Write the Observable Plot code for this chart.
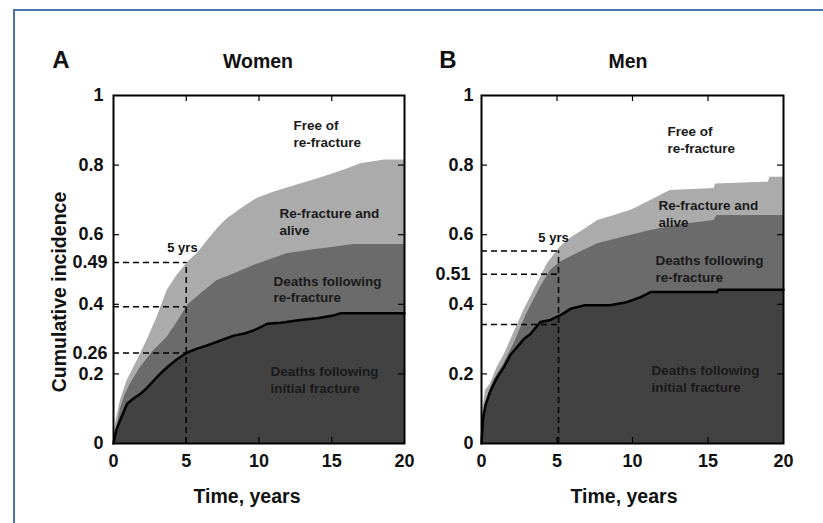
<!DOCTYPE html>
<html>
<head>
<meta charset="utf-8">
<script src="https://cdn.jsdelivr.net/npm/d3@7"></script>
<script src="https://cdn.jsdelivr.net/npm/@observablehq/plot@0.6"></script>
<style>
  html, body { margin: 0; padding: 0; overflow: hidden; background: #fff; }
  body { font-family: "Liberation Sans", Arial, sans-serif; }
  #wrap { position: relative; width: 823px; height: 523px; overflow: hidden; background: #fff; }
  #border { position: absolute; left: 13px; top: 9px; width: 900px; height: 600px;
            border-left: 2px solid #4e73ae; border-top: 2px solid #4e73ae; }
  .t { position: absolute; font-weight: bold; color: #111; white-space: nowrap;
       line-height: 1; transform: translate(-50%, -50%); }
  .panel { position: absolute; top: 80px; }
  .panel svg { overflow: visible; }
</style>
</head>
<body>
<div id="wrap">
  <div id="border"></div>
  <div id="pA" class="panel" style="left:0px"></div>
  <div id="pB" class="panel" style="left:410px"></div>
  <div class="t" style="left:61px;top:60px;font-size:24px">A</div>
  <div class="t" style="left:258px;top:62px;font-size:19.5px">Women</div>
  <div class="t" style="left:448px;top:60px;font-size:24px">B</div>
  <div class="t" style="left:628px;top:62px;font-size:19.5px">Men</div>
  <div class="t" style="left:60px;top:292px;font-size:19.5px;transform:translate(-50%,-50%) rotate(-90deg)">Cumulative incidence</div>
  <div class="t" style="left:247px;top:497px;font-size:19.5px">Time, years</div>
  <div class="t" style="left:624px;top:497px;font-size:19.5px">Time, years</div>
</div>
<script>
// ---- axis ticks ----
const xTicks = [0, 5, 10, 15, 20];
const yTicks = [0, 0.2, 0.4, 0.6, 0.8, 1];
const innerXTicks = [5, 10, 15];
const innerYTicks = [0.2, 0.4, 0.6, 0.8];

// ---- Women ----
const womenTotalT = [0, 0.15, 0.48, 0.94, 1.63, 2.3, 3.0, 3.69, 4.4, 5.1, 5.8, 6.5, 7.2, 7.8, 8.8, 9.9, 11.0, 12.0, 12.85, 14.0, 15.1, 16.0, 17.0, 18.0, 18.6, 20];
const womenTotalV = [0, 0.06, 0.124, 0.181, 0.238, 0.296, 0.363, 0.44, 0.485, 0.521, 0.548, 0.585, 0.62, 0.645, 0.675, 0.705, 0.722, 0.735, 0.746, 0.76, 0.775, 0.788, 0.804, 0.81, 0.815, 0.815];
const womenMidT = [0, 0.25, 0.48, 0.8, 1.17, 1.86, 2.77, 3.69, 4.4, 5.1, 6.0, 7.1, 8.3, 9.6, 10.6, 11.9, 13.5, 15.0, 16.5, 20];
const womenMidV = [0, 0.05, 0.1, 0.14, 0.172, 0.219, 0.267, 0.305, 0.35, 0.397, 0.43, 0.468, 0.488, 0.511, 0.526, 0.545, 0.555, 0.563, 0.572, 0.572];
const womenInitT = [0, 0.2, 0.45, 0.94, 1.4, 1.86, 2.3, 2.77, 3.2, 3.69, 4.3, 5.0, 5.7, 6.44, 7.5, 8.27, 9.0, 9.64, 10.56, 11.5, 12.85, 14.0, 15.1, 15.6, 20];
const womenInitV = [0, 0.04, 0.066, 0.114, 0.13, 0.143, 0.16, 0.181, 0.2, 0.219, 0.24, 0.26, 0.272, 0.282, 0.298, 0.31, 0.316, 0.325, 0.344, 0.347, 0.355, 0.36, 0.368, 0.374, 0.374];
const womenRefTime = 5;
const womenRefLevels = [0.26, 0.393, 0.52];
const womenRefLabels = ["0.26", "0.49"];
const womenRefLabelLevels = [0.26, 0.52];

// ---- Men ----
const menTotalT = [0, 0.1, 0.26, 0.6, 1.04, 1.5, 1.92, 2.8, 3.7, 4.35, 5.2, 5.9, 6.8, 7.7, 8.8, 9.9, 11.2, 12.5, 15.4, 15.5, 19.0, 19.1, 20];
const menTotalV = [0, 0.1, 0.152, 0.172, 0.219, 0.255, 0.296, 0.382, 0.459, 0.516, 0.564, 0.59, 0.615, 0.641, 0.655, 0.67, 0.698, 0.727, 0.733, 0.746, 0.751, 0.765, 0.765];
const menMidT = [0, 0.1, 0.38, 0.8, 1.48, 2.14, 3.0, 3.9, 4.57, 5.2, 6.3, 7.7, 9.4, 11.2, 13.0, 15.4, 15.6, 20];
const menMidV = [0, 0.08, 0.133, 0.181, 0.229, 0.286, 0.373, 0.449, 0.497, 0.521, 0.545, 0.574, 0.593, 0.612, 0.628, 0.641, 0.655, 0.655];
const menInitT = [0, 0.1, 0.26, 0.6, 1.04, 1.48, 1.92, 2.36, 2.8, 3.25, 3.9, 4.57, 5.2, 5.9, 6.8, 8.5, 9.6, 10.5, 11.2, 15.6, 15.7, 20];
const menInitV = [0, 0.07, 0.11, 0.152, 0.19, 0.219, 0.255, 0.277, 0.3, 0.315, 0.349, 0.355, 0.368, 0.387, 0.397, 0.397, 0.406, 0.42, 0.435, 0.435, 0.442, 0.442];
const menRefTime = 5.1;
const menRefLevels = [0.342, 0.486, 0.553];
const menRefLabels = ["0.51"];
const menRefLabelLevels = [0.486];

// ---- region labels ----
const regionLabels = ["Free of\nre-fracture", "Re-fracture and\nalive", "Deaths following\nre-fracture", "Deaths following\ninitial fracture"];
const yrsLabel = "5 yrs";

const zipTV = (T, V) => T.map((t, i) => ({t, v: V[i]}));

function panel(c) {
  const plotH = 348;
  const plotW = c.width - c.ml - c.mr;
  const total = zipTV(c.totalT, c.totalV);
  const mid = zipTV(c.midT, c.midV);
  const init = zipTV(c.initT, c.initV);
  const refLab = c.refLabels.map((s, i) => ({s, y: c.refLabelLevels[i]}));
  const txt = {fontSize: 13.5, fontWeight: "bold", fill: "#1a1a1a", textAnchor: "start", lineHeight: 1.25};
  return Plot.plot({
    width: c.width, height: 443,
    marginLeft: c.ml, marginRight: c.mr, marginTop: 15, marginBottom: 80,
    x: {domain: [0, 20]},
    y: {domain: [0, 1]},
    style: {fontFamily: "'Liberation Sans', Arial, sans-serif", background: "transparent", overflow: "visible", color: "#111"},
    marks: [
      Plot.areaY(total, {x: "t", y: "v", fill: "#ababab"}),
      Plot.areaY(mid, {x: "t", y: "v", fill: "#6b6b6b"}),
      Plot.areaY(init, {x: "t", y: "v", fill: "#424242"}),
      Plot.line(init, {x: "t", y: "v", stroke: "#000", strokeWidth: 2.5}),
      Plot.ruleY(c.refLevels, {x1: 0, x2: c.refTime, stroke: "#000", strokeWidth: 1.5, strokeDasharray: "6,4"}),
      Plot.ruleX([c.refTime], {y1: 0, y2: d3.max(c.refLevels), stroke: "#000", strokeWidth: 1.5, strokeDasharray: "6,4"}),
      Plot.tickX(innerXTicks, {x: d => d, insetTop: plotH - 6, stroke: "#000", strokeWidth: 1.2}),
      Plot.tickX(innerXTicks, {x: d => d, insetBottom: plotH - 6, stroke: "#000", strokeWidth: 1.2}),
      Plot.tickY(innerYTicks, {y: d => d, insetRight: plotW - 6, stroke: "#000", strokeWidth: 1.2}),
      Plot.tickY(innerYTicks, {y: d => d, insetLeft: plotW - 6, stroke: "#000", strokeWidth: 1.2}),
      Plot.frame({stroke: "#000", strokeWidth: 2}),
      Plot.axisX(xTicks, {tickSize: 0, tickPadding: 11, fontSize: 18, fontWeight: "bold", label: null, tickFormat: d => String(d)}),
      Plot.axisY(yTicks, {tickSize: 0, tickPadding: c.yPad, fontSize: 18, fontWeight: "bold", label: null, tickFormat: d => String(d)}),
      Plot.text(refLab, {x: 0, y: "y", text: "s", textAnchor: "end", dx: -c.refPad, fontSize: 18, fontWeight: "bold", fill: "#111"}),
      Plot.text([yrsLabel], {x: c.yrs[0], y: c.yrs[1], text: d => d, fontSize: 13, fontWeight: "bold", fill: "#111"}),
      ...regionLabels.map((s, i) => Plot.text([s], {x: c.lab[i][0], y: c.lab[i][1], text: d => d, ...txt}))
    ]
  });
}

document.getElementById("pA").append(panel({
  width: 410, ml: 113, mr: 6, yPad: 10, refPad: 6,
  totalT: womenTotalT, totalV: womenTotalV, midT: womenMidT, midV: womenMidV, initT: womenInitT, initV: womenInitV,
  refTime: womenRefTime, refLevels: womenRefLevels, refLabels: womenRefLabels, refLabelLevels: womenRefLabelLevels,
  yrs: [4.74, 0.563],
  lab: [[12.37, 0.891], [11.41, 0.639], [11.0, 0.445], [10.79, 0.185]]
}));

document.getElementById("pB").append(panel({
  width: 413, ml: 71, mr: 40, yPad: 8, refPad: 11,
  totalT: menTotalT, totalV: menTotalV, midT: menMidT, midV: menMidV, initT: menInitT, initV: menInitV,
  refTime: menRefTime, refLevels: menRefLevels, refLabels: menRefLabels, refLabelLevels: menRefLabelLevels,
  yrs: [4.77, 0.59],
  lab: [[12.32, 0.874], [11.72, 0.662], [11.52, 0.504], [11.26, 0.188]]
}));
</script>
</body>
</html>
